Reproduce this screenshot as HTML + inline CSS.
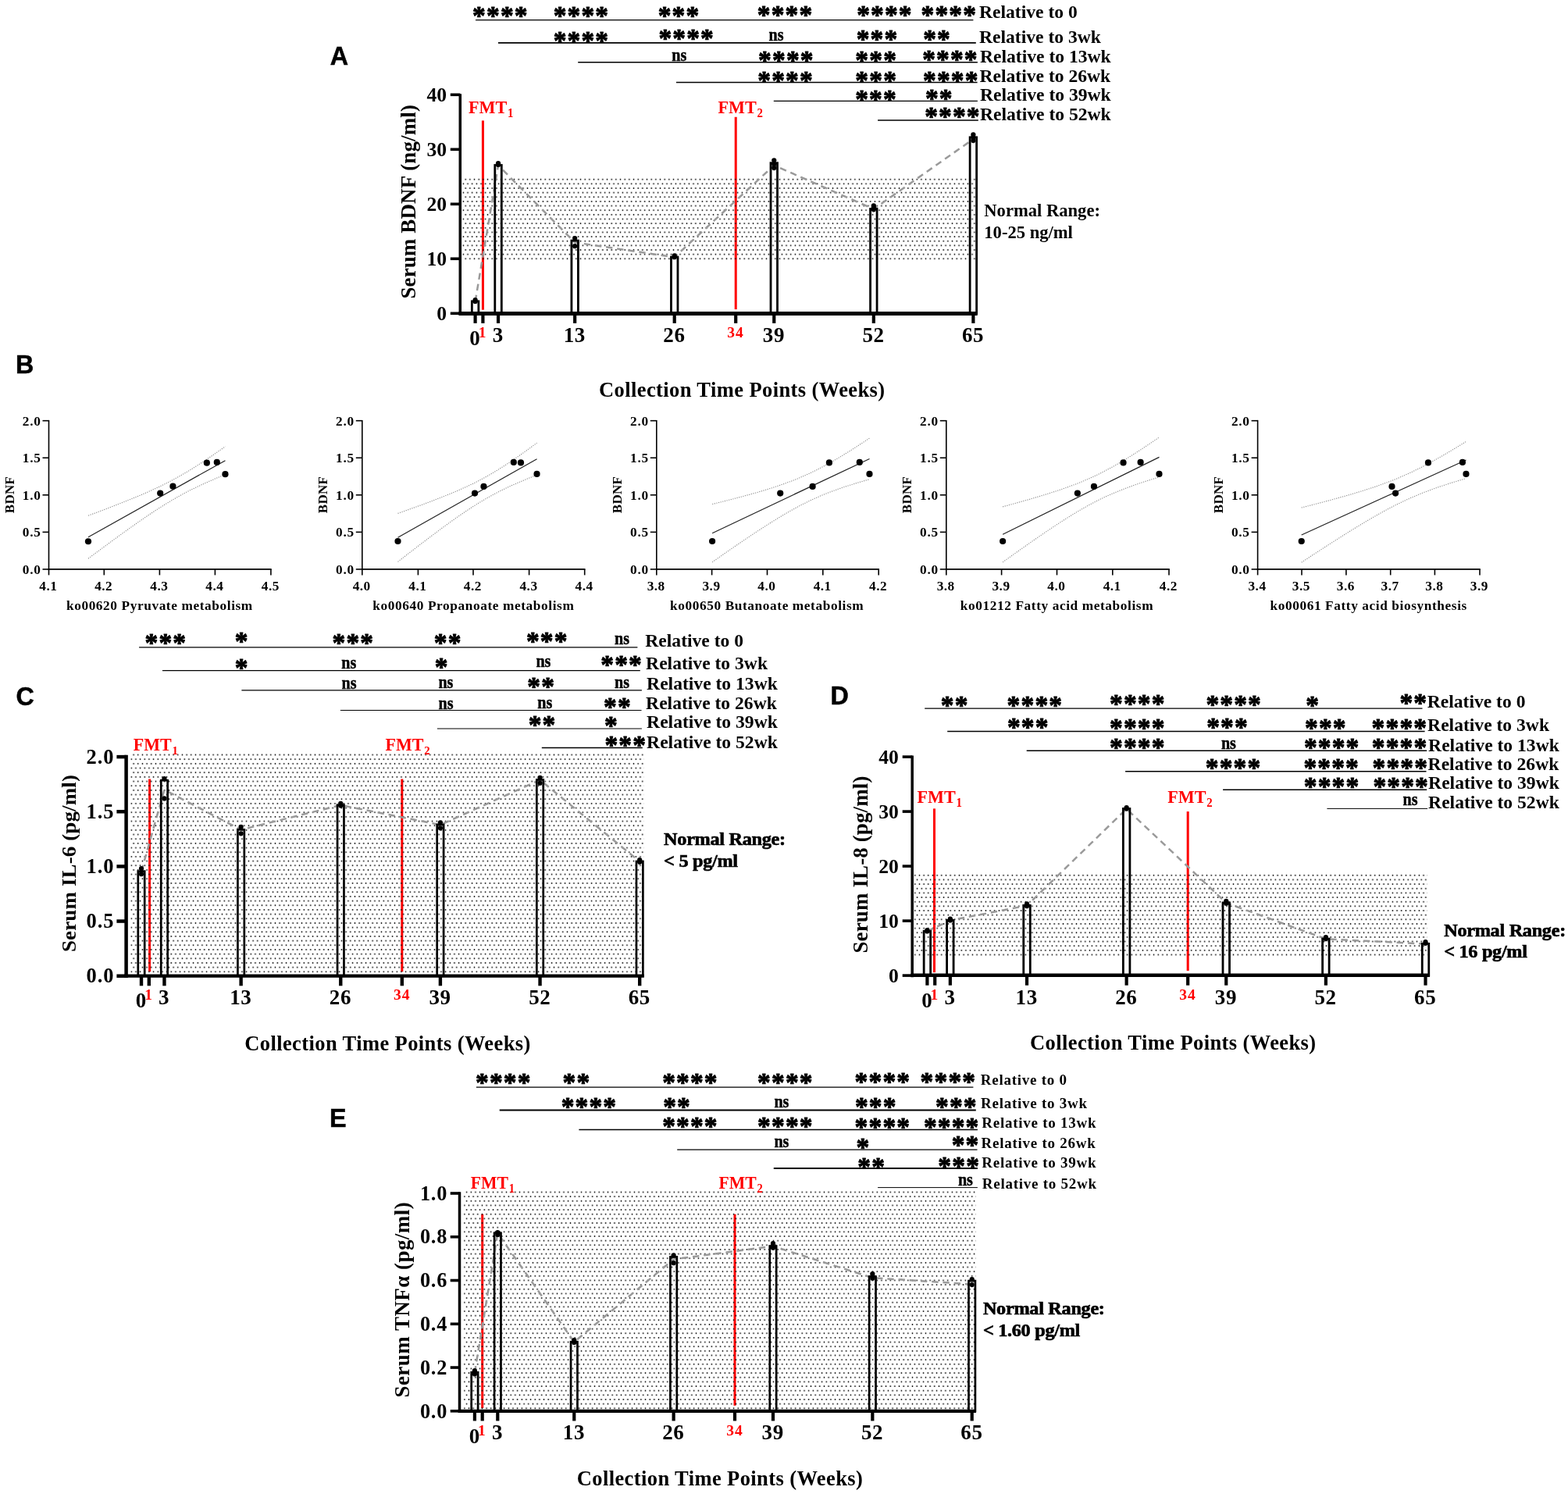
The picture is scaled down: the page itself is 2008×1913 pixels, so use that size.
<!DOCTYPE html>
<html lang="en"><head><meta charset="utf-8"><title>Serum BDNF and cytokine levels across collection time points</title>
<style>html,body{margin:0;padding:0;background:#fff}body{width:2008px;height:1913px;overflow:hidden}svg{display:block}text{font-family:'Liberation Serif', serif;font-weight:bold}line{stroke:#000}.pl{stroke:#000;stroke-width:0.5px}.nr{stroke:#000;stroke-width:0.7px}.nsx{stroke:#000;stroke-width:0.45px}.st{stroke:#000;stroke-width:1px;stroke-linejoin:round}</style>
</head><body>
<svg width="2008" height="1913" viewBox="0 0 2008 1913" role="img" aria-label="Serum BDNF, IL-6, IL-8 and TNF-alpha across collection time points">
<defs>
<pattern id="dotsA" patternUnits="userSpaceOnUse" x="594.78" y="226.88" width="5.667" height="11.288"><circle cx="1.42" cy="2.82" r="0.86" fill="#000"/><circle cx="4.25" cy="8.47" r="0.86" fill="#000"/></pattern>
<pattern id="dotsC" patternUnits="userSpaceOnUse" x="164.03" y="963.67" width="5.667" height="11.338"><circle cx="1.42" cy="2.83" r="0.86" fill="#000"/><circle cx="4.25" cy="8.5" r="0.86" fill="#000"/></pattern>
<pattern id="dotsD" patternUnits="userSpaceOnUse" x="1170.38" y="1117.97" width="5.663" height="11.300"><circle cx="1.42" cy="2.83" r="0.86" fill="#000"/><circle cx="4.25" cy="8.48" r="0.86" fill="#000"/></pattern>
<pattern id="dotsE" patternUnits="userSpaceOnUse" x="590.59" y="1523.68" width="5.652" height="11.296"><circle cx="1.41" cy="2.82" r="0.86" fill="#000"/><circle cx="4.24" cy="8.47" r="0.86" fill="#000"/></pattern>
</defs>
<rect width="2008" height="1913" fill="#fff"/>
<g id="panelA">
<line x1="618.41" y1="154.4" x2="618.41" y2="396.7" stroke-width="3" style="stroke:#f00"/>
<line x1="942.21" y1="149.8" x2="942.21" y2="396.1" stroke-width="3" style="stroke:#f00"/>
<rect x="592" y="227" width="658" height="107" fill="url(#dotsA)"/>
<polyline points="608.6,386 638.04,211.7 736.16,310.4 863.71,329.3 991.27,211.7 1118.82,267.7 1246.38,178.1" fill="none" stroke="#9a9a9a" stroke-width="2.5" stroke-dasharray="8.4 5.85"/>
<rect x="604.35" y="385.8" width="8.5" height="15.5" fill="none" stroke="#000" stroke-width="2.8"/>
<rect x="633.79" y="211.5" width="8.5" height="189.8" fill="none" stroke="#000" stroke-width="2.8"/>
<rect x="731.91" y="308.1" width="8.5" height="93.2" fill="none" stroke="#000" stroke-width="2.8"/>
<rect x="859.46" y="329.1" width="8.5" height="72.2" fill="none" stroke="#000" stroke-width="2.8"/>
<rect x="987.02" y="208.7" width="8.5" height="192.6" fill="none" stroke="#000" stroke-width="2.8"/>
<rect x="1114.57" y="267.5" width="8.5" height="133.8" fill="none" stroke="#000" stroke-width="2.8"/>
<rect x="1242.13" y="175.8" width="8.5" height="225.5" fill="none" stroke="#000" stroke-width="2.8"/>
<circle cx="608.6" cy="385.9" r="3.1" />
<circle cx="608.6" cy="384.15" r="3.1" />
<circle cx="638.04" cy="210.9" r="3.1" />
<circle cx="638.04" cy="209.15" r="3.1" />
<circle cx="736.16" cy="315.2" r="3.1" />
<circle cx="736.16" cy="305.05" r="3.1" />
<circle cx="863.71" cy="329.2" r="3.1" />
<circle cx="863.71" cy="327.45" r="3.1" />
<circle cx="991.27" cy="215.1" r="3.1" />
<circle cx="991.27" cy="210.2" r="3.1" />
<circle cx="991.27" cy="205.3" r="3.1" />
<circle cx="1118.82" cy="268.3" r="3.1" />
<circle cx="1118.82" cy="265.5" r="3.1" />
<circle cx="1118.82" cy="263.4" r="3.1" />
<circle cx="1246.38" cy="180.1" r="3.1" />
<circle cx="1246.38" cy="175.9" r="3.1" />
<circle cx="1246.38" cy="172.4" r="3.1" />
<line x1="589.3" y1="120.2" x2="589.3" y2="403.5" stroke-width="3.5"/>
<line x1="587.55" y1="401.6" x2="1251.7" y2="401.6" stroke-width="5"/>
<line x1="576.8" y1="401.3" x2="589.3" y2="401.3" stroke-width="3.6"/>
<text x="572" y="410" font-size="25.6" text-anchor="end">0</text>
<line x1="576.8" y1="331.3" x2="589.3" y2="331.3" stroke-width="3.6"/>
<text x="572" y="340" font-size="25.6" text-anchor="end">10</text>
<line x1="576.8" y1="261.3" x2="589.3" y2="261.3" stroke-width="3.6"/>
<text x="572" y="270" font-size="25.6" text-anchor="end">20</text>
<line x1="576.8" y1="191.3" x2="589.3" y2="191.3" stroke-width="3.6"/>
<text x="572" y="200" font-size="25.6" text-anchor="end">30</text>
<line x1="576.8" y1="121.3" x2="589.3" y2="121.3" stroke-width="3.6"/>
<text x="572" y="130" font-size="25.6" text-anchor="end">40</text>
<line x1="608.6" y1="401.3" x2="608.6" y2="413.9" stroke-width="4.2"/>
<line x1="618.41" y1="401.3" x2="618.41" y2="413.9" stroke-width="4.2"/>
<line x1="638.04" y1="401.3" x2="638.04" y2="413.9" stroke-width="4.2"/>
<line x1="736.16" y1="401.3" x2="736.16" y2="413.9" stroke-width="4.2"/>
<line x1="863.71" y1="401.3" x2="863.71" y2="413.9" stroke-width="4.2"/>
<line x1="942.21" y1="401.3" x2="942.21" y2="413.9" stroke-width="4.2"/>
<line x1="991.27" y1="401.3" x2="991.27" y2="413.9" stroke-width="4.2"/>
<line x1="1118.82" y1="401.3" x2="1118.82" y2="413.9" stroke-width="4.2"/>
<line x1="1246.38" y1="401.3" x2="1246.38" y2="413.9" stroke-width="4.2"/>
<text x="637.74" y="438.1" font-size="27" text-anchor="middle" letter-spacing="0.6">3</text>
<text x="735.86" y="438.1" font-size="27" text-anchor="middle" letter-spacing="0.6">13</text>
<text x="863.41" y="438.1" font-size="27" text-anchor="middle" letter-spacing="0.6">26</text>
<text x="990.97" y="438.1" font-size="27" text-anchor="middle" letter-spacing="0.6">39</text>
<text x="1118.52" y="438.1" font-size="27" text-anchor="middle" letter-spacing="0.6">52</text>
<text x="1246.08" y="438.1" font-size="27" text-anchor="middle" letter-spacing="0.6">65</text>
<text x="608.1" y="442.3" font-size="27" text-anchor="middle">0</text>
<text x="617.61" y="432.3" font-size="19.5" text-anchor="middle" style="fill:#f00">1</text>
<text x="942.11" y="432.3" font-size="19.5" text-anchor="middle" letter-spacing="1" style="fill:#f00">34</text>
<text x="0" y="0" font-size="23.6" style="fill:#f00" transform="translate(600 145) scale(0.94 1)">FMT<tspan font-size="15.81" dy="4.8" dx="0.8">1</tspan></text>
<text x="0" y="0" font-size="23.6" style="fill:#f00" transform="translate(919.5 145) scale(0.94 1)">FMT<tspan font-size="15.81" dy="4.8" dx="0.8">2</tspan></text>
<text x="0" y="0" font-size="27" text-anchor="middle" letter-spacing="0.12" transform="translate(532.4 258.3) rotate(-90) scale(1 1)">Serum BDNF (ng/ml)</text>
<text x="950.3" y="507.7" font-size="26.5" text-anchor="middle" letter-spacing="0.4">Collection Time Points (Weeks)</text>
<text x="0" y="0" font-size="22.6" transform="translate(1260.3 277.4) scale(1 1.05)">Normal Range:</text>
<text x="0" y="0" font-size="22.6" transform="translate(1260.3 304.6) scale(1 1.05)">10-25 ng/ml</text>
<text x="422.7" y="82.5" font-size="32.3" style="font-family:'Liberation Sans', sans-serif" class="pl">A</text>
<line x1="609" y1="25.6" x2="1246.4" y2="25.6" stroke-width="1.2"/>
<text x="0" y="0" font-size="33.4" letter-spacing="1.2" transform="translate(605.1 30.65) scale(1 1.02)" class="st">****</text>
<text x="0" y="0" font-size="33.4" letter-spacing="1.2" transform="translate(708.7 30.65) scale(1 1.02)" class="st">****</text>
<text x="0" y="0" font-size="33.4" letter-spacing="1.2" transform="translate(842.65 30.65) scale(1 1.02)" class="st">***</text>
<text x="0" y="0" font-size="33.4" letter-spacing="1.2" transform="translate(969.8 29.85) scale(1 1.02)" class="st">****</text>
<text x="0" y="0" font-size="33.4" letter-spacing="1.2" transform="translate(1097.2 29.85) scale(1 1.02)" class="st">****</text>
<text x="0" y="0" font-size="33.4" letter-spacing="1.2" transform="translate(1179.5 29.85) scale(1 1.02)" class="st">****</text>
<text x="0" y="0" font-size="23.6" transform="translate(1254 23) scale(1 0.94)">Relative to 0</text>
<line x1="638" y1="54.9" x2="1249.8" y2="54.9" stroke-width="1.8"/>
<text x="0" y="0" font-size="33.4" letter-spacing="1.2" transform="translate(708.7 63.25) scale(1 1.02)" class="st">****</text>
<text x="0" y="0" font-size="33.4" letter-spacing="1.2" transform="translate(843.4 60.45) scale(1 1.02)" class="st">****</text>
<text x="0" y="0" font-size="24" text-anchor="middle" transform="translate(994 52) scale(0.84 1)" class="nsx">ns</text>
<text x="0" y="0" font-size="33.4" letter-spacing="1.2" transform="translate(1096.65 61.35) scale(1 1.02)" class="st">***</text>
<text x="0" y="0" font-size="33.4" letter-spacing="1.2" transform="translate(1182.2 61.35) scale(1 1.02)" class="st">**</text>
<text x="0" y="0" font-size="23.6" transform="translate(1254 54.8) scale(1 0.94)">Relative to 3wk</text>
<line x1="740.2" y1="79.8" x2="1251.9" y2="79.8" stroke-width="1.6"/>
<text x="0" y="0" font-size="24" text-anchor="middle" transform="translate(869.7 77.5) scale(0.84 1)" class="nsx">ns</text>
<text x="0" y="0" font-size="33.4" letter-spacing="1.2" transform="translate(971.1 88.35) scale(1 1.02)" class="st">****</text>
<text x="0" y="0" font-size="33.4" letter-spacing="1.2" transform="translate(1095.35 88.35) scale(1 1.02)" class="st">***</text>
<text x="0" y="0" font-size="33.4" letter-spacing="1.2" transform="translate(1181.2 86.55) scale(1 1.02)" class="st">****</text>
<text x="0" y="0" font-size="23.6" transform="translate(1255 80.1) scale(1 0.94)">Relative to 13wk</text>
<line x1="866" y1="105.5" x2="1251.6" y2="105.5" stroke-width="1.6"/>
<text x="0" y="0" font-size="33.4" letter-spacing="1.2" transform="translate(970.3 114.45) scale(1 1.02)" class="st">****</text>
<text x="0" y="0" font-size="33.4" letter-spacing="1.2" transform="translate(1095.35 114.45) scale(1 1.02)" class="st">***</text>
<text x="0" y="0" font-size="33.4" letter-spacing="1.2" transform="translate(1182 114.45) scale(1 1.02)" class="st">****</text>
<text x="0" y="0" font-size="23.6" transform="translate(1254.5 105.1) scale(1 0.94)">Relative to 26wk</text>
<line x1="990.8" y1="129.4" x2="1251.9" y2="129.4" stroke-width="1.2"/>
<text x="0" y="0" font-size="33.4" letter-spacing="1.2" transform="translate(1095.15 138.45) scale(1 1.02)" class="st">***</text>
<text x="0" y="0" font-size="33.4" letter-spacing="1.2" transform="translate(1184.9 137.05) scale(1 1.02)" class="st">**</text>
<text x="0" y="0" font-size="23.6" transform="translate(1255 129.1) scale(1 0.94)">Relative to 39wk</text>
<line x1="1124.1" y1="154" x2="1252.8" y2="154" stroke-width="1.6"/>
<text x="0" y="0" font-size="33.4" letter-spacing="1.2" transform="translate(1184.2 159.75) scale(1 1.02)" class="st">****</text>
<text x="0" y="0" font-size="23.6" transform="translate(1255 153.8) scale(1 0.94)">Relative to 52wk</text>
</g>
<g id="panelC">
<line x1="191.6" y1="997.5" x2="191.6" y2="1244.2" stroke-width="3" style="stroke:#f00"/>
<line x1="514.81" y1="997.5" x2="514.81" y2="1244.2" stroke-width="3" style="stroke:#f00"/>
<rect x="167.2" y="964.5" width="657.3" height="284.5" fill="url(#dotsC)"/>
<polyline points="181,1115.81 210.45,1011.29 308.63,1062.5 436.27,1030.93 563.9,1056.18 691.54,998.66 819.17,1103.18" fill="none" stroke="#9a9a9a" stroke-width="2.5" stroke-dasharray="8.4 5.85"/>
<rect x="176.8" y="1115.61" width="8.4" height="134.09" fill="none" stroke="#000" stroke-width="2.7"/>
<rect x="206.25" y="999.16" width="8.4" height="250.54" fill="none" stroke="#000" stroke-width="2.7"/>
<rect x="304.43" y="1062.3" width="8.4" height="187.4" fill="none" stroke="#000" stroke-width="2.7"/>
<rect x="432.07" y="1030.73" width="8.4" height="218.97" fill="none" stroke="#000" stroke-width="2.7"/>
<rect x="559.7" y="1055.98" width="8.4" height="193.72" fill="none" stroke="#000" stroke-width="2.7"/>
<rect x="687.34" y="998.46" width="8.4" height="251.24" fill="none" stroke="#000" stroke-width="2.7"/>
<rect x="814.97" y="1102.98" width="8.4" height="146.72" fill="none" stroke="#000" stroke-width="2.7"/>
<circle cx="181" cy="1119.22" r="3.1" />
<circle cx="181" cy="1112.21" r="3.1" />
<circle cx="210.45" cy="1022.41" r="3.1" />
<circle cx="210.45" cy="997.16" r="3.1" />
<circle cx="308.63" cy="1067.31" r="3.1" />
<circle cx="308.63" cy="1058.89" r="3.1" />
<circle cx="436.27" cy="1031.53" r="3.1" />
<circle cx="436.27" cy="1028.73" r="3.1" />
<circle cx="563.9" cy="1060.3" r="3.1" />
<circle cx="563.9" cy="1053.28" r="3.1" />
<circle cx="691.54" cy="1002.77" r="3.1" />
<circle cx="691.54" cy="995.76" r="3.1" />
<circle cx="819.17" cy="1103.79" r="3.1" />
<circle cx="819.17" cy="1100.98" r="3.1" />
<line x1="161.6" y1="966.85" x2="161.6" y2="1251.9" stroke-width="4.5"/>
<line x1="159.35" y1="1249.6" x2="824.8" y2="1249.6" stroke-width="4.3"/>
<line x1="149.4" y1="1249.7" x2="161.6" y2="1249.7" stroke-width="4.5"/>
<text x="146.6" y="1258.4" font-size="26.5" text-anchor="end" letter-spacing="1">0.0</text>
<line x1="149.4" y1="1179.55" x2="161.6" y2="1179.55" stroke-width="4.5"/>
<text x="146.6" y="1188.25" font-size="26.5" text-anchor="end" letter-spacing="1">0.5</text>
<line x1="149.4" y1="1109.4" x2="161.6" y2="1109.4" stroke-width="4.5"/>
<text x="146.6" y="1118.1" font-size="26.5" text-anchor="end" letter-spacing="1">1.0</text>
<line x1="149.4" y1="1039.25" x2="161.6" y2="1039.25" stroke-width="4.5"/>
<text x="146.6" y="1047.95" font-size="26.5" text-anchor="end" letter-spacing="1">1.5</text>
<line x1="149.4" y1="969.1" x2="161.6" y2="969.1" stroke-width="4.5"/>
<text x="146.6" y="977.8" font-size="26.5" text-anchor="end" letter-spacing="1">2.0</text>
<line x1="181" y1="1249.7" x2="181" y2="1262.3" stroke-width="4.4"/>
<line x1="190.82" y1="1249.7" x2="190.82" y2="1262.3" stroke-width="4.4"/>
<line x1="210.45" y1="1249.7" x2="210.45" y2="1262.3" stroke-width="4.4"/>
<line x1="308.63" y1="1249.7" x2="308.63" y2="1262.3" stroke-width="4.4"/>
<line x1="436.27" y1="1249.7" x2="436.27" y2="1262.3" stroke-width="4.4"/>
<line x1="514.81" y1="1249.7" x2="514.81" y2="1262.3" stroke-width="4.4"/>
<line x1="563.9" y1="1249.7" x2="563.9" y2="1262.3" stroke-width="4.4"/>
<line x1="691.54" y1="1249.7" x2="691.54" y2="1262.3" stroke-width="4.4"/>
<line x1="819.17" y1="1249.7" x2="819.17" y2="1262.3" stroke-width="4.4"/>
<text x="210.15" y="1285.7" font-size="27" text-anchor="middle" letter-spacing="0.6">3</text>
<text x="308.33" y="1285.7" font-size="27" text-anchor="middle" letter-spacing="0.6">13</text>
<text x="435.97" y="1285.7" font-size="27" text-anchor="middle" letter-spacing="0.6">26</text>
<text x="563.6" y="1285.7" font-size="27" text-anchor="middle" letter-spacing="0.6">39</text>
<text x="691.24" y="1285.7" font-size="27" text-anchor="middle" letter-spacing="0.6">52</text>
<text x="818.87" y="1285.7" font-size="27" text-anchor="middle" letter-spacing="0.6">65</text>
<text x="180.5" y="1289.9" font-size="27" text-anchor="middle">0</text>
<text x="190.02" y="1280" font-size="19.5" text-anchor="middle" style="fill:#f00">1</text>
<text x="514.71" y="1280" font-size="19.5" text-anchor="middle" letter-spacing="1" style="fill:#f00">34</text>
<text x="0" y="0" font-size="23.2" style="fill:#f00" transform="translate(170.7 961) scale(0.95 1)">FMT<tspan font-size="15.54" dy="4.8" dx="0.8">1</tspan></text>
<text x="0" y="0" font-size="23.2" style="fill:#f00" transform="translate(493.5 961) scale(0.95 1)">FMT<tspan font-size="15.54" dy="4.8" dx="0.8">2</tspan></text>
<text x="0" y="0" font-size="27" text-anchor="middle" letter-spacing="0.12" transform="translate(97 1105.5) rotate(-90) scale(1 0.91)">Serum IL-6 (pg/ml)</text>
<text x="496.5" y="1344.6" font-size="26.5" text-anchor="middle" letter-spacing="0.4">Collection Time Points (Weeks)</text>
<text x="0" y="0" font-size="24.5" letter-spacing="-0.3" transform="translate(850.1 1082.4) scale(0.99 0.92)" class="nr">Normal Range:</text>
<text x="0" y="0" font-size="24.5" letter-spacing="-0.3" transform="translate(850.1 1110) scale(0.99 0.92)" class="nr">&lt; 5 pg/ml</text>
<text x="20.4" y="903.3" font-size="32.3" style="font-family:'Liberation Sans', sans-serif" class="pl">C</text>
<line x1="178.1" y1="828.9" x2="816.4" y2="828.9" stroke-width="1.2"/>
<text x="0" y="0" font-size="33.4" letter-spacing="1.2" transform="translate(185.55 834.05) scale(1 1.02)" class="st">***</text>
<text x="0" y="0" font-size="33.4" letter-spacing="1.2" transform="translate(300.85 831.95) scale(1 1.02)" class="st">*</text>
<text x="0" y="0" font-size="33.4" letter-spacing="1.2" transform="translate(425.55 834.05) scale(1 1.02)" class="st">***</text>
<text x="0" y="0" font-size="33.4" letter-spacing="1.2" transform="translate(555.8 834.05) scale(1 1.02)" class="st">**</text>
<text x="0" y="0" font-size="33.4" letter-spacing="1.2" transform="translate(673.95 832.05) scale(1 1.02)" class="st">***</text>
<text x="0" y="0" font-size="24" text-anchor="middle" transform="translate(796.5 824.9) scale(0.84 1)" class="nsx">ns</text>
<text x="0" y="0" font-size="23.6" transform="translate(826.3 827.5) scale(1 0.94)">Relative to 0</text>
<line x1="208" y1="858.7" x2="819.8" y2="858.7" stroke-width="1.2"/>
<text x="0" y="0" font-size="33.4" letter-spacing="1.2" transform="translate(300.85 866.35) scale(1 1.02)" class="st">*</text>
<text x="0" y="0" font-size="24" text-anchor="middle" transform="translate(446.7 856) scale(0.84 1)" class="nsx">ns</text>
<text x="0" y="0" font-size="33.4" letter-spacing="1.2" transform="translate(556.75 864.55) scale(1 1.02)" class="st">*</text>
<text x="0" y="0" font-size="24" text-anchor="middle" transform="translate(695.9 854.2) scale(0.84 1)" class="nsx">ns</text>
<text x="0" y="0" font-size="33.4" letter-spacing="1.2" transform="translate(769.25 862.05) scale(1 1.02)" class="st">***</text>
<text x="0" y="0" font-size="23.6" transform="translate(827.1 857.4) scale(1 0.94)">Relative to 3wk</text>
<line x1="309.4" y1="883.8" x2="821.9" y2="883.8" stroke-width="1.2"/>
<text x="0" y="0" font-size="24" text-anchor="middle" transform="translate(447.1 881.7) scale(0.84 1)" class="nsx">ns</text>
<text x="0" y="0" font-size="24" text-anchor="middle" transform="translate(570.9 881) scale(0.84 1)" class="nsx">ns</text>
<text x="0" y="0" font-size="33.4" letter-spacing="1.2" transform="translate(675.3 889.85) scale(1 1.02)" class="st">**</text>
<text x="0" y="0" font-size="24" text-anchor="middle" transform="translate(796.5 881) scale(0.84 1)" class="nsx">ns</text>
<text x="0" y="0" font-size="23.6" transform="translate(828.1 883.1) scale(1 0.94)">Relative to 13wk</text>
<line x1="435.9" y1="909.5" x2="821.5" y2="909.5" stroke-width="1.2"/>
<text x="0" y="0" font-size="24" text-anchor="middle" transform="translate(571.1 908.1) scale(0.84 1)" class="nsx">ns</text>
<text x="0" y="0" font-size="24" text-anchor="middle" transform="translate(697.7 906.7) scale(0.84 1)" class="nsx">ns</text>
<text x="0" y="0" font-size="33.4" letter-spacing="1.2" transform="translate(773 915.85) scale(1 1.02)" class="st">**</text>
<text x="0" y="0" font-size="23.6" transform="translate(827.1 908.1) scale(1 0.94)">Relative to 26wk</text>
<line x1="559.9" y1="933" x2="821.9" y2="933" stroke-width="1.2"/>
<text x="0" y="0" font-size="33.4" letter-spacing="1.2" transform="translate(676.7 939.05) scale(1 1.02)" class="st">**</text>
<text x="0" y="0" font-size="33.4" letter-spacing="1.2" transform="translate(773.95 940.35) scale(1 1.02)" class="st">*</text>
<text x="0" y="0" font-size="23.6" transform="translate(828.1 932.1) scale(1 0.94)">Relative to 39wk</text>
<line x1="693.8" y1="957.5" x2="822.8" y2="957.5" stroke-width="1.6"/>
<text x="0" y="0" font-size="33.4" letter-spacing="1.2" transform="translate(774.45 965.05) scale(1 1.02)" class="st">***</text>
<text x="0" y="0" font-size="23.6" transform="translate(828.1 957.7) scale(1 0.94)">Relative to 52wk</text>
</g>
<g id="panelD">
<line x1="1196.5" y1="1035.4" x2="1196.5" y2="1245.1" stroke-width="3" style="stroke:#f00"/>
<line x1="1521.18" y1="1039.1" x2="1521.18" y2="1243" stroke-width="3" style="stroke:#f00"/>
<rect x="1170.5" y="1117.5" width="657.5" height="108.5" fill="url(#dotsD)"/>
<polyline points="1187.4,1192.5 1216.85,1178.5 1315.02,1159.6 1442.64,1035.7 1570.26,1156.1 1697.88,1202.3 1825.51,1208.6" fill="none" stroke="#9a9a9a" stroke-width="2.5" stroke-dasharray="8.4 5.85"/>
<rect x="1183.15" y="1192.3" width="8.5" height="56.8" fill="none" stroke="#000" stroke-width="2.8"/>
<rect x="1212.6" y="1178.3" width="8.5" height="70.8" fill="none" stroke="#000" stroke-width="2.8"/>
<rect x="1310.77" y="1159.4" width="8.5" height="89.7" fill="none" stroke="#000" stroke-width="2.8"/>
<rect x="1438.39" y="1035.5" width="8.5" height="213.6" fill="none" stroke="#000" stroke-width="2.8"/>
<rect x="1566.01" y="1155.9" width="8.5" height="93.2" fill="none" stroke="#000" stroke-width="2.8"/>
<rect x="1693.63" y="1202.1" width="8.5" height="47" fill="none" stroke="#000" stroke-width="2.8"/>
<rect x="1821.26" y="1208.4" width="8.5" height="40.7" fill="none" stroke="#000" stroke-width="2.8"/>
<circle cx="1187.4" cy="1192.4" r="3.1" />
<circle cx="1187.4" cy="1191" r="3.1" />
<circle cx="1216.85" cy="1178.4" r="3.1" />
<circle cx="1216.85" cy="1176.65" r="3.1" />
<circle cx="1315.02" cy="1160.2" r="3.1" />
<circle cx="1315.02" cy="1157.4" r="3.1" />
<circle cx="1442.64" cy="1035.6" r="3.1" />
<circle cx="1442.64" cy="1034.2" r="3.1" />
<circle cx="1570.26" cy="1156.7" r="3.1" />
<circle cx="1570.26" cy="1153.9" r="3.1" />
<circle cx="1697.88" cy="1202.2" r="3.1" />
<circle cx="1697.88" cy="1200.1" r="3.1" />
<circle cx="1825.51" cy="1207.8" r="3.1" />
<circle cx="1825.51" cy="1206.05" r="3.1" />
<line x1="1168.2" y1="967.5" x2="1168.2" y2="1251.3" stroke-width="3.5"/>
<line x1="1166.45" y1="1248.7" x2="1831" y2="1248.7" stroke-width="4.5"/>
<line x1="1155.7" y1="1249.1" x2="1168.2" y2="1249.1" stroke-width="3.6"/>
<text x="1150.9" y="1257.8" font-size="25.6" text-anchor="end">0</text>
<line x1="1155.7" y1="1179.1" x2="1168.2" y2="1179.1" stroke-width="3.6"/>
<text x="1150.9" y="1187.8" font-size="25.6" text-anchor="end">10</text>
<line x1="1155.7" y1="1109.1" x2="1168.2" y2="1109.1" stroke-width="3.6"/>
<text x="1150.9" y="1117.8" font-size="25.6" text-anchor="end">20</text>
<line x1="1155.7" y1="1039.1" x2="1168.2" y2="1039.1" stroke-width="3.6"/>
<text x="1150.9" y="1047.8" font-size="25.6" text-anchor="end">30</text>
<line x1="1155.7" y1="969.1" x2="1168.2" y2="969.1" stroke-width="3.6"/>
<text x="1150.9" y="977.8" font-size="25.6" text-anchor="end">40</text>
<line x1="1187.4" y1="1249.1" x2="1187.4" y2="1261.7" stroke-width="4.2"/>
<line x1="1197.22" y1="1249.1" x2="1197.22" y2="1261.7" stroke-width="4.2"/>
<line x1="1216.85" y1="1249.1" x2="1216.85" y2="1261.7" stroke-width="4.2"/>
<line x1="1315.02" y1="1249.1" x2="1315.02" y2="1261.7" stroke-width="4.2"/>
<line x1="1442.64" y1="1249.1" x2="1442.64" y2="1261.7" stroke-width="4.2"/>
<line x1="1521.18" y1="1249.1" x2="1521.18" y2="1261.7" stroke-width="4.2"/>
<line x1="1570.26" y1="1249.1" x2="1570.26" y2="1261.7" stroke-width="4.2"/>
<line x1="1697.88" y1="1249.1" x2="1697.88" y2="1261.7" stroke-width="4.2"/>
<line x1="1825.51" y1="1249.1" x2="1825.51" y2="1261.7" stroke-width="4.2"/>
<text x="1216.55" y="1285.9" font-size="27" text-anchor="middle" letter-spacing="0.6">3</text>
<text x="1314.72" y="1285.9" font-size="27" text-anchor="middle" letter-spacing="0.6">13</text>
<text x="1442.34" y="1285.9" font-size="27" text-anchor="middle" letter-spacing="0.6">26</text>
<text x="1569.96" y="1285.9" font-size="27" text-anchor="middle" letter-spacing="0.6">39</text>
<text x="1697.58" y="1285.9" font-size="27" text-anchor="middle" letter-spacing="0.6">52</text>
<text x="1825.21" y="1285.9" font-size="27" text-anchor="middle" letter-spacing="0.6">65</text>
<text x="1186.9" y="1290.1" font-size="27" text-anchor="middle">0</text>
<text x="1196.42" y="1280.1" font-size="19.5" text-anchor="middle" style="fill:#f00">1</text>
<text x="1521.08" y="1280.1" font-size="19.5" text-anchor="middle" letter-spacing="1" style="fill:#f00">34</text>
<text x="0" y="0" font-size="23.6" style="fill:#f00" transform="translate(1174.5 1028.2) scale(0.94 1)">FMT<tspan font-size="15.81" dy="4.8" dx="0.8">1</tspan></text>
<text x="0" y="0" font-size="23.6" style="fill:#f00" transform="translate(1495.2 1028.2) scale(0.94 1)">FMT<tspan font-size="15.81" dy="4.8" dx="0.8">2</tspan></text>
<text x="0" y="0" font-size="27" text-anchor="middle" letter-spacing="0.12" transform="translate(1110.5 1107) rotate(-90) scale(1 1)">Serum IL-8 (pg/ml)</text>
<text x="1502.3" y="1344.3" font-size="26.5" text-anchor="middle" letter-spacing="0.4">Collection Time Points (Weeks)</text>
<text x="0" y="0" font-size="24.5" letter-spacing="-0.3" transform="translate(1849.2 1199) scale(0.99 0.92)" class="nr">Normal Range:</text>
<text x="0" y="0" font-size="24.5" letter-spacing="-0.3" transform="translate(1849.2 1225.8) scale(0.99 0.92)" class="nr">&lt; 16 pg/ml</text>
<text x="1063.5" y="902" font-size="32.3" style="font-family:'Liberation Sans', sans-serif" class="pl">D</text>
<line x1="1184.2" y1="907.1" x2="1821.5" y2="907.1" stroke-width="1.2"/>
<text x="0" y="0" font-size="33.4" letter-spacing="1.2" transform="translate(1204.8 914.05) scale(1 1.02)" class="st">**</text>
<text x="0" y="0" font-size="33.4" letter-spacing="1.2" transform="translate(1289.6 914.05) scale(1 1.02)" class="st">****</text>
<text x="0" y="0" font-size="33.4" letter-spacing="1.2" transform="translate(1421 912.15) scale(1 1.02)" class="st">****</text>
<text x="0" y="0" font-size="33.4" letter-spacing="1.2" transform="translate(1544.4 912.65) scale(1 1.02)" class="st">****</text>
<text x="0" y="0" font-size="33.4" letter-spacing="1.2" transform="translate(1672.15 914.25) scale(1 1.02)" class="st">*</text>
<text x="0" y="0" font-size="33.4" letter-spacing="1.2" transform="translate(1792.4 911.15) scale(1 1.02)" class="st">**</text>
<text x="0" y="0" font-size="23.6" transform="translate(1827.7 905.9) scale(1 0.94)">Relative to 0</text>
<line x1="1213.2" y1="936.5" x2="1824.6" y2="936.5" stroke-width="1.6"/>
<text x="0" y="0" font-size="33.4" letter-spacing="1.2" transform="translate(1289.95 942.05) scale(1 1.02)" class="st">***</text>
<text x="0" y="0" font-size="33.4" letter-spacing="1.2" transform="translate(1421 943.25) scale(1 1.02)" class="st">****</text>
<text x="0" y="0" font-size="33.4" letter-spacing="1.2" transform="translate(1545.15 942.05) scale(1 1.02)" class="st">***</text>
<text x="0" y="0" font-size="33.4" letter-spacing="1.2" transform="translate(1671.05 943.25) scale(1 1.02)" class="st">***</text>
<text x="0" y="0" font-size="33.4" letter-spacing="1.2" transform="translate(1756.6 943.25) scale(1 1.02)" class="st">****</text>
<text x="0" y="0" font-size="23.6" transform="translate(1828.1 935.6) scale(1 0.94)">Relative to 3wk</text>
<line x1="1314.7" y1="961.2" x2="1827.2" y2="961.2" stroke-width="1.6"/>
<text x="0" y="0" font-size="33.4" letter-spacing="1.2" transform="translate(1421 967.75) scale(1 1.02)" class="st">****</text>
<text x="0" y="0" font-size="24" text-anchor="middle" transform="translate(1573.4 958.8) scale(0.84 1)" class="nsx">ns</text>
<text x="0" y="0" font-size="33.4" letter-spacing="1.2" transform="translate(1669.9 967.75) scale(1 1.02)" class="st">****</text>
<text x="0" y="0" font-size="33.4" letter-spacing="1.2" transform="translate(1756.8 967.75) scale(1 1.02)" class="st">****</text>
<text x="0" y="0" font-size="23.6" transform="translate(1829.1 961.6) scale(1 0.94)">Relative to 13wk</text>
<line x1="1441.1" y1="987.8" x2="1826.5" y2="987.8" stroke-width="1.6"/>
<text x="0" y="0" font-size="33.4" letter-spacing="1.2" transform="translate(1543.8 994.25) scale(1 1.02)" class="st">****</text>
<text x="0" y="0" font-size="33.4" letter-spacing="1.2" transform="translate(1669.4 994.25) scale(1 1.02)" class="st">****</text>
<text x="0" y="0" font-size="33.4" letter-spacing="1.2" transform="translate(1757.5 994.25) scale(1 1.02)" class="st">****</text>
<text x="0" y="0" font-size="23.6" transform="translate(1828.6 985.8) scale(1 0.94)">Relative to 26wk</text>
<line x1="1566.1" y1="1011.3" x2="1827.2" y2="1011.3" stroke-width="1.6"/>
<text x="0" y="0" font-size="33.4" letter-spacing="1.2" transform="translate(1669.8 1017.55) scale(1 1.02)" class="st">****</text>
<text x="0" y="0" font-size="33.4" letter-spacing="1.2" transform="translate(1758.4 1017.55) scale(1 1.02)" class="st">****</text>
<text x="0" y="0" font-size="23.6" transform="translate(1829.1 1009.8) scale(1 0.94)">Relative to 39wk</text>
<line x1="1699.4" y1="1035.4" x2="1828.1" y2="1035.4" stroke-width="1"/>
<text x="0" y="0" font-size="24" text-anchor="middle" transform="translate(1806.1 1031.3) scale(0.84 1)" class="nsx">ns</text>
<text x="0" y="0" font-size="23.6" transform="translate(1829.1 1034.8) scale(1 0.94)">Relative to 52wk</text>
</g>
<g id="panelE">
<line x1="617.7" y1="1554.7" x2="617.7" y2="1803.1" stroke-width="3" style="stroke:#f00"/>
<line x1="941" y1="1554.7" x2="941" y2="1799.8" stroke-width="3" style="stroke:#f00"/>
<rect x="594" y="1524" width="656" height="282" fill="url(#dotsE)"/>
<polyline points="607.9,1757.42 637.29,1578.98 735.26,1718.38 862.62,1612.44 989.98,1595.71 1117.34,1636.14 1244.7,1644.5" fill="none" stroke="#9a9a9a" stroke-width="2.5" stroke-dasharray="8.4 5.85"/>
<rect x="603.7" y="1757.22" width="8.4" height="49.58" fill="none" stroke="#000" stroke-width="2.7"/>
<rect x="633.09" y="1578.78" width="8.4" height="228.02" fill="none" stroke="#000" stroke-width="2.7"/>
<rect x="731.06" y="1718.18" width="8.4" height="88.62" fill="none" stroke="#000" stroke-width="2.7"/>
<rect x="858.42" y="1609.45" width="8.4" height="197.35" fill="none" stroke="#000" stroke-width="2.7"/>
<rect x="985.78" y="1595.51" width="8.4" height="211.29" fill="none" stroke="#000" stroke-width="2.7"/>
<rect x="1113.14" y="1634.54" width="8.4" height="172.26" fill="none" stroke="#000" stroke-width="2.7"/>
<rect x="1240.5" y="1640.12" width="8.4" height="166.68" fill="none" stroke="#000" stroke-width="2.7"/>
<circle cx="607.9" cy="1759.4" r="3.1" />
<circle cx="607.9" cy="1755.22" r="3.1" />
<circle cx="637.29" cy="1580.97" r="3.1" />
<circle cx="637.29" cy="1578.18" r="3.1" />
<circle cx="735.26" cy="1718.98" r="3.1" />
<circle cx="735.26" cy="1716.19" r="3.1" />
<circle cx="862.62" cy="1617.22" r="3.1" />
<circle cx="862.62" cy="1607.46" r="3.1" />
<circle cx="989.98" cy="1597.7" r="3.1" />
<circle cx="989.98" cy="1592.12" r="3.1" />
<circle cx="1117.34" cy="1636.73" r="3.1" />
<circle cx="1117.34" cy="1631.16" r="3.1" />
<circle cx="1244.7" cy="1645.1" r="3.1" />
<circle cx="1244.7" cy="1638.13" r="3.1" />
<line x1="588.5" y1="1526.2" x2="588.5" y2="1809" stroke-width="3.5"/>
<line x1="586.75" y1="1806.8" x2="1250" y2="1806.8" stroke-width="4.2"/>
<line x1="576.7" y1="1806.8" x2="588.5" y2="1806.8" stroke-width="3.6"/>
<text x="573.2" y="1815.5" font-size="26.3" text-anchor="end" letter-spacing="0.8">0.0</text>
<line x1="576.7" y1="1751.04" x2="588.5" y2="1751.04" stroke-width="3.6"/>
<text x="573.2" y="1759.74" font-size="26.3" text-anchor="end" letter-spacing="0.8">0.2</text>
<line x1="576.7" y1="1695.28" x2="588.5" y2="1695.28" stroke-width="3.6"/>
<text x="573.2" y="1703.98" font-size="26.3" text-anchor="end" letter-spacing="0.8">0.4</text>
<line x1="576.7" y1="1639.52" x2="588.5" y2="1639.52" stroke-width="3.6"/>
<text x="573.2" y="1648.22" font-size="26.3" text-anchor="end" letter-spacing="0.8">0.6</text>
<line x1="576.7" y1="1583.76" x2="588.5" y2="1583.76" stroke-width="3.6"/>
<text x="573.2" y="1592.46" font-size="26.3" text-anchor="end" letter-spacing="0.8">0.8</text>
<line x1="576.7" y1="1528" x2="588.5" y2="1528" stroke-width="3.6"/>
<text x="573.2" y="1536.7" font-size="26.3" text-anchor="end" letter-spacing="0.8">1.0</text>
<line x1="607.9" y1="1806.8" x2="607.9" y2="1819.4" stroke-width="4.2"/>
<line x1="617.7" y1="1806.8" x2="617.7" y2="1819.4" stroke-width="4.2"/>
<line x1="637.29" y1="1806.8" x2="637.29" y2="1819.4" stroke-width="4.2"/>
<line x1="735.26" y1="1806.8" x2="735.26" y2="1819.4" stroke-width="4.2"/>
<line x1="862.62" y1="1806.8" x2="862.62" y2="1819.4" stroke-width="4.2"/>
<line x1="941" y1="1806.8" x2="941" y2="1819.4" stroke-width="4.2"/>
<line x1="989.98" y1="1806.8" x2="989.98" y2="1819.4" stroke-width="4.2"/>
<line x1="1117.34" y1="1806.8" x2="1117.34" y2="1819.4" stroke-width="4.2"/>
<line x1="1244.7" y1="1806.8" x2="1244.7" y2="1819.4" stroke-width="4.2"/>
<text x="636.99" y="1843" font-size="27" text-anchor="middle" letter-spacing="0.6">3</text>
<text x="734.96" y="1843" font-size="27" text-anchor="middle" letter-spacing="0.6">13</text>
<text x="862.32" y="1843" font-size="27" text-anchor="middle" letter-spacing="0.6">26</text>
<text x="989.68" y="1843" font-size="27" text-anchor="middle" letter-spacing="0.6">39</text>
<text x="1117.04" y="1843" font-size="27" text-anchor="middle" letter-spacing="0.6">52</text>
<text x="1244.4" y="1843" font-size="27" text-anchor="middle" letter-spacing="0.6">65</text>
<text x="607.4" y="1847.8" font-size="27" text-anchor="middle">0</text>
<text x="616.9" y="1837.8" font-size="19.5" text-anchor="middle" style="fill:#f00">1</text>
<text x="940.9" y="1837.8" font-size="19.5" text-anchor="middle" letter-spacing="1" style="fill:#f00">34</text>
<text x="0" y="0" font-size="23.6" style="fill:#f00" transform="translate(602.7 1522.3) scale(0.92 1)">FMT<tspan font-size="15.81" dy="4.8" dx="0.8">1</tspan></text>
<text x="0" y="0" font-size="23.6" style="fill:#f00" transform="translate(920.5 1522.3) scale(0.92 1)">FMT<tspan font-size="15.81" dy="4.8" dx="0.8">2</tspan></text>
<text x="0" y="0" font-size="27" text-anchor="middle" letter-spacing="0.45" transform="translate(524 1664.2) rotate(-90) scale(1 1)">Serum TNFα (pg/ml)</text>
<text x="922" y="1901.8" font-size="26.5" text-anchor="middle" letter-spacing="0.4">Collection Time Points (Weeks)</text>
<text x="0" y="0" font-size="24.5" letter-spacing="-0.3" transform="translate(1258.9 1683.3) scale(0.99 0.92)" class="nr">Normal Range:</text>
<text x="0" y="0" font-size="24.5" letter-spacing="-0.3" transform="translate(1258.9 1710.9) scale(0.99 0.92)" class="nr">&lt; 1.60 pg/ml</text>
<text x="422" y="1442.7" font-size="32.3" style="font-family:'Liberation Sans', sans-serif" class="pl">E</text>
<line x1="609.9" y1="1392.2" x2="1246.4" y2="1392.2" stroke-width="1.2"/>
<text x="0" y="0" font-size="33.4" letter-spacing="1.2" transform="translate(609 1397.35) scale(1 1.02)" class="st">****</text>
<text x="0" y="0" font-size="33.4" letter-spacing="1.2" transform="translate(720.5 1397.35) scale(1 1.02)" class="st">**</text>
<text x="0" y="0" font-size="33.4" letter-spacing="1.2" transform="translate(848.2 1397.35) scale(1 1.02)" class="st">****</text>
<text x="0" y="0" font-size="33.4" letter-spacing="1.2" transform="translate(970.1 1397.25) scale(1 1.02)" class="st">****</text>
<text x="0" y="0" font-size="33.4" letter-spacing="1.2" transform="translate(1094.6 1395.65) scale(1 1.02)" class="st">****</text>
<text x="0" y="0" font-size="33.4" letter-spacing="1.2" transform="translate(1178.6 1395.65) scale(1 1.02)" class="st">****</text>
<text x="0" y="0" font-size="19" letter-spacing="0.75" transform="translate(1255.8 1388.6) scale(1 1)">Relative to 0</text>
<line x1="639.7" y1="1421.5" x2="1249.8" y2="1421.5" stroke-width="1.8"/>
<text x="0" y="0" font-size="33.4" letter-spacing="1.2" transform="translate(718.7 1428.05) scale(1 1.02)" class="st">****</text>
<text x="0" y="0" font-size="33.4" letter-spacing="1.2" transform="translate(849.2 1428.05) scale(1 1.02)" class="st">**</text>
<text x="0" y="0" font-size="24" text-anchor="middle" transform="translate(1000.9 1418.2) scale(0.84 1)" class="nsx">ns</text>
<text x="0" y="0" font-size="33.4" letter-spacing="1.2" transform="translate(1094.95 1428.05) scale(1 1.02)" class="st">***</text>
<text x="0" y="0" font-size="33.4" letter-spacing="1.2" transform="translate(1198.05 1428.05) scale(1 1.02)" class="st">***</text>
<text x="0" y="0" font-size="19" letter-spacing="0.75" transform="translate(1256 1418.8) scale(1 1)">Relative to 3wk</text>
<line x1="741.4" y1="1446.5" x2="1251.9" y2="1446.5" stroke-width="1.6"/>
<text x="0" y="0" font-size="33.4" letter-spacing="1.2" transform="translate(848.2 1453.05) scale(1 1.02)" class="st">****</text>
<text x="0" y="0" font-size="33.4" letter-spacing="1.2" transform="translate(970.1 1453.05) scale(1 1.02)" class="st">****</text>
<text x="0" y="0" font-size="33.4" letter-spacing="1.2" transform="translate(1094.6 1454.35) scale(1 1.02)" class="st">****</text>
<text x="0" y="0" font-size="33.4" letter-spacing="1.2" transform="translate(1182.9 1454.35) scale(1 1.02)" class="st">****</text>
<text x="0" y="0" font-size="19" letter-spacing="0.75" transform="translate(1257.3 1444.1) scale(1 1)">Relative to 13wk</text>
<line x1="867.2" y1="1472.2" x2="1251.5" y2="1472.2" stroke-width="1.2"/>
<text x="0" y="0" font-size="24" text-anchor="middle" transform="translate(1000.9 1469.3) scale(0.84 1)" class="nsx">ns</text>
<text x="0" y="0" font-size="33.4" letter-spacing="1.2" transform="translate(1096.55 1480.05) scale(1 1.02)" class="st">*</text>
<text x="0" y="0" font-size="33.4" letter-spacing="1.2" transform="translate(1218.7 1477.05) scale(1 1.02)" class="st">**</text>
<text x="0" y="0" font-size="19" letter-spacing="0.75" transform="translate(1256.5 1470.3) scale(1 1)">Relative to 26wk</text>
<line x1="990.8" y1="1496" x2="1251.9" y2="1496" stroke-width="1.9"/>
<text x="0" y="0" font-size="33.4" letter-spacing="1.2" transform="translate(1098.3 1505.15) scale(1 1.02)" class="st">**</text>
<text x="0" y="0" font-size="33.4" letter-spacing="1.2" transform="translate(1201.35 1504.45) scale(1 1.02)" class="st">***</text>
<text x="0" y="0" font-size="19" letter-spacing="0.75" transform="translate(1257.3 1495.3) scale(1 1)">Relative to 39wk</text>
<line x1="1124.1" y1="1520.6" x2="1251.9" y2="1520.6" stroke-width="1"/>
<text x="0" y="0" font-size="24" text-anchor="middle" transform="translate(1236.4 1518) scale(0.84 1)" class="nsx">ns</text>
<text x="0" y="0" font-size="19" letter-spacing="0.75" transform="translate(1257.8 1521.5) scale(1 1)">Relative to 52wk</text>
</g>
<g id="panelB">
<text x="20" y="477.8" font-size="32.3" style="font-family:'Liberation Sans', sans-serif" class="pl">B</text>
<line x1="62.5" y1="537.9" x2="62.5" y2="729.7" stroke-width="1.6"/>
<line x1="61.7" y1="728.9" x2="347.7" y2="728.9" stroke-width="1.6"/>
<line x1="54.5" y1="728.9" x2="62.5" y2="728.9" stroke-width="1.6"/>
<text x="52.5" y="734.7" font-size="17.3" text-anchor="end" letter-spacing="0.7">0.0</text>
<line x1="54.5" y1="681.35" x2="62.5" y2="681.35" stroke-width="1.6"/>
<text x="52.5" y="687.15" font-size="17.3" text-anchor="end" letter-spacing="0.7">0.5</text>
<line x1="54.5" y1="633.8" x2="62.5" y2="633.8" stroke-width="1.6"/>
<text x="52.5" y="639.6" font-size="17.3" text-anchor="end" letter-spacing="0.7">1.0</text>
<line x1="54.5" y1="586.25" x2="62.5" y2="586.25" stroke-width="1.6"/>
<text x="52.5" y="592.05" font-size="17.3" text-anchor="end" letter-spacing="0.7">1.5</text>
<line x1="54.5" y1="538.7" x2="62.5" y2="538.7" stroke-width="1.6"/>
<text x="52.5" y="544.5" font-size="17.3" text-anchor="end" letter-spacing="0.7">2.0</text>
<line x1="62.5" y1="728.9" x2="62.5" y2="736.4" stroke-width="1.6"/>
<text x="61.9" y="756.4" font-size="17.3" text-anchor="middle" letter-spacing="0.5">4.1</text>
<line x1="133.3" y1="728.9" x2="133.3" y2="736.4" stroke-width="1.6"/>
<text x="132.7" y="756.4" font-size="17.3" text-anchor="middle" letter-spacing="0.5">4.2</text>
<line x1="204.4" y1="728.9" x2="204.4" y2="736.4" stroke-width="1.6"/>
<text x="203.8" y="756.4" font-size="17.3" text-anchor="middle" letter-spacing="0.5">4.3</text>
<line x1="275.4" y1="728.9" x2="275.4" y2="736.4" stroke-width="1.6"/>
<text x="274.8" y="756.4" font-size="17.3" text-anchor="middle" letter-spacing="0.5">4.4</text>
<line x1="346.9" y1="728.9" x2="346.9" y2="736.4" stroke-width="1.6"/>
<text x="346.3" y="756.4" font-size="17.3" text-anchor="middle" letter-spacing="0.5">4.5</text>
<text x="0" y="0" font-size="17" text-anchor="middle" letter-spacing="0.3" transform="translate(18 633.5) rotate(-90)">BDNF</text>
<text x="204.4" y="780.6" font-size="17.3" text-anchor="middle" letter-spacing="0.6">ko00620 Pyruvate metabolism</text>
<polyline points="113,660.19 120.31,657.47 127.62,654.73 134.94,651.97 142.25,649.17 149.56,646.34 156.87,643.47 164.18,640.55 171.49,637.57 178.8,634.51 186.11,631.38 193.43,628.13 200.74,624.77 208.05,621.26 215.36,617.59 222.67,613.75 229.98,609.72 237.29,605.5 244.6,601.1 251.92,596.52 259.23,591.8 266.54,586.94 273.85,581.96 281.16,576.89 288.47,571.74" fill="none" stroke="#8c8c8c" stroke-width="1.1" stroke-dasharray="1.2 1.5"/>
<polyline points="113,715.23 120.31,709.78 127.62,704.35 134.94,698.94 142.25,693.57 149.56,688.22 156.87,682.92 164.18,677.67 171.49,672.48 178.8,667.37 186.11,662.33 193.43,657.41 200.74,652.6 208.05,647.93 215.36,643.43 222.67,639.1 229.98,634.96 237.29,631.01 244.6,627.24 251.92,623.64 259.23,620.2 266.54,616.88 273.85,613.69 281.16,610.59 288.47,607.56" fill="none" stroke="#8c8c8c" stroke-width="1.1" stroke-dasharray="1.2 1.5"/>
<line x1="113" y1="687.71" x2="288.47" y2="589.65" stroke-width="1.2" style="stroke:#222"/>
<circle cx="113" cy="693.24" r="4.1" />
<circle cx="205.18" cy="631.53" r="4.1" />
<circle cx="221.43" cy="622.64" r="4.1" />
<circle cx="264.86" cy="592.68" r="4.1" />
<circle cx="277.81" cy="591.91" r="4.1" />
<circle cx="288.47" cy="607.15" r="4.1" />
<line x1="463.8" y1="537.9" x2="463.8" y2="729.7" stroke-width="1.6"/>
<line x1="463" y1="728.9" x2="749.5" y2="728.9" stroke-width="1.6"/>
<line x1="455.8" y1="728.9" x2="463.8" y2="728.9" stroke-width="1.6"/>
<text x="453.8" y="734.7" font-size="17.3" text-anchor="end" letter-spacing="0.7">0.0</text>
<line x1="455.8" y1="681.35" x2="463.8" y2="681.35" stroke-width="1.6"/>
<text x="453.8" y="687.15" font-size="17.3" text-anchor="end" letter-spacing="0.7">0.5</text>
<line x1="455.8" y1="633.8" x2="463.8" y2="633.8" stroke-width="1.6"/>
<text x="453.8" y="639.6" font-size="17.3" text-anchor="end" letter-spacing="0.7">1.0</text>
<line x1="455.8" y1="586.25" x2="463.8" y2="586.25" stroke-width="1.6"/>
<text x="453.8" y="592.05" font-size="17.3" text-anchor="end" letter-spacing="0.7">1.5</text>
<line x1="455.8" y1="538.7" x2="463.8" y2="538.7" stroke-width="1.6"/>
<text x="453.8" y="544.5" font-size="17.3" text-anchor="end" letter-spacing="0.7">2.0</text>
<line x1="463.8" y1="728.9" x2="463.8" y2="736.4" stroke-width="1.6"/>
<text x="463.2" y="756.4" font-size="17.3" text-anchor="middle" letter-spacing="0.5">4.0</text>
<line x1="535.4" y1="728.9" x2="535.4" y2="736.4" stroke-width="1.6"/>
<text x="534.8" y="756.4" font-size="17.3" text-anchor="middle" letter-spacing="0.5">4.1</text>
<line x1="606" y1="728.9" x2="606" y2="736.4" stroke-width="1.6"/>
<text x="605.4" y="756.4" font-size="17.3" text-anchor="middle" letter-spacing="0.5">4.2</text>
<line x1="677.6" y1="728.9" x2="677.6" y2="736.4" stroke-width="1.6"/>
<text x="677" y="756.4" font-size="17.3" text-anchor="middle" letter-spacing="0.5">4.3</text>
<line x1="748.7" y1="728.9" x2="748.7" y2="736.4" stroke-width="1.6"/>
<text x="748.1" y="756.4" font-size="17.3" text-anchor="middle" letter-spacing="0.5">4.4</text>
<text x="0" y="0" font-size="17" text-anchor="middle" letter-spacing="0.3" transform="translate(419.3 633.5) rotate(-90)">BDNF</text>
<text x="606.4" y="780.6" font-size="17.3" text-anchor="middle" letter-spacing="0.6">ko00640 Propanoate metabolism</text>
<polyline points="509.51,657.37 516.92,654.76 524.34,652.11 531.76,649.44 539.18,646.74 546.59,643.99 554.01,641.2 561.43,638.34 568.84,635.42 576.26,632.41 583.68,629.3 591.09,626.07 598.51,622.69 605.93,619.14 613.35,615.39 620.76,611.44 628.18,607.25 635.6,602.85 643.01,598.23 650.43,593.41 657.85,588.42 665.27,583.28 672.68,578.02 680.1,572.65 687.52,567.19" fill="none" stroke="#8c8c8c" stroke-width="1.1" stroke-dasharray="1.2 1.5"/>
<polyline points="509.51,719.33 516.92,713.56 524.34,707.81 531.76,702.1 539.18,696.42 546.59,690.77 554.01,685.18 561.43,679.65 568.84,674.18 576.26,668.8 583.68,663.52 591.09,658.37 598.51,653.36 605.93,648.52 613.35,643.88 620.76,639.45 628.18,635.25 635.6,631.26 643.01,627.5 650.43,623.92 657.85,620.53 665.27,617.28 672.68,614.16 680.1,611.14 687.52,608.21" fill="none" stroke="#8c8c8c" stroke-width="1.1" stroke-dasharray="1.2 1.5"/>
<line x1="509.51" y1="688.35" x2="687.52" y2="587.7" stroke-width="1.2" style="stroke:#222"/>
<circle cx="509.51" cy="692.99" r="4.1" />
<circle cx="608.03" cy="631.54" r="4.1" />
<circle cx="619.46" cy="622.91" r="4.1" />
<circle cx="657.81" cy="591.92" r="4.1" />
<circle cx="666.95" cy="592.43" r="4.1" />
<circle cx="687.52" cy="606.91" r="4.1" />
<line x1="840.8" y1="537.9" x2="840.8" y2="729.7" stroke-width="1.6"/>
<line x1="840" y1="728.9" x2="1126" y2="728.9" stroke-width="1.6"/>
<line x1="832.8" y1="728.9" x2="840.8" y2="728.9" stroke-width="1.6"/>
<text x="830.8" y="734.7" font-size="17.3" text-anchor="end" letter-spacing="0.7">0.0</text>
<line x1="832.8" y1="681.35" x2="840.8" y2="681.35" stroke-width="1.6"/>
<text x="830.8" y="687.15" font-size="17.3" text-anchor="end" letter-spacing="0.7">0.5</text>
<line x1="832.8" y1="633.8" x2="840.8" y2="633.8" stroke-width="1.6"/>
<text x="830.8" y="639.6" font-size="17.3" text-anchor="end" letter-spacing="0.7">1.0</text>
<line x1="832.8" y1="586.25" x2="840.8" y2="586.25" stroke-width="1.6"/>
<text x="830.8" y="592.05" font-size="17.3" text-anchor="end" letter-spacing="0.7">1.5</text>
<line x1="832.8" y1="538.7" x2="840.8" y2="538.7" stroke-width="1.6"/>
<text x="830.8" y="544.5" font-size="17.3" text-anchor="end" letter-spacing="0.7">2.0</text>
<line x1="840.8" y1="728.9" x2="840.8" y2="736.4" stroke-width="1.6"/>
<text x="840.2" y="756.4" font-size="17.3" text-anchor="middle" letter-spacing="0.5">3.8</text>
<line x1="911.6" y1="728.9" x2="911.6" y2="736.4" stroke-width="1.6"/>
<text x="911" y="756.4" font-size="17.3" text-anchor="middle" letter-spacing="0.5">3.9</text>
<line x1="982.5" y1="728.9" x2="982.5" y2="736.4" stroke-width="1.6"/>
<text x="981.9" y="756.4" font-size="17.3" text-anchor="middle" letter-spacing="0.5">4.0</text>
<line x1="1053.8" y1="728.9" x2="1053.8" y2="736.4" stroke-width="1.6"/>
<text x="1053.2" y="756.4" font-size="17.3" text-anchor="middle" letter-spacing="0.5">4.1</text>
<line x1="1125.2" y1="728.9" x2="1125.2" y2="736.4" stroke-width="1.6"/>
<text x="1124.6" y="756.4" font-size="17.3" text-anchor="middle" letter-spacing="0.5">4.2</text>
<text x="0" y="0" font-size="17" text-anchor="middle" letter-spacing="0.3" transform="translate(796.3 633.5) rotate(-90)">BDNF</text>
<text x="982.2" y="780.6" font-size="17.3" text-anchor="middle" letter-spacing="0.6">ko00650 Butanoate metabolism</text>
<polyline points="912.11,645.56 920.5,643.5 928.89,641.4 937.28,639.26 945.67,637.07 954.06,634.83 962.45,632.52 970.84,630.13 979.23,627.64 987.62,625.04 996.01,622.29 1004.4,619.38 1012.79,616.28 1021.18,612.96 1029.57,609.39 1037.96,605.55 1046.36,601.45 1054.75,597.09 1063.14,592.48 1071.53,587.65 1079.92,582.62 1088.31,577.43 1096.7,572.1 1105.09,566.65 1113.48,561.11" fill="none" stroke="#8c8c8c" stroke-width="1.1" stroke-dasharray="1.2 1.5"/>
<polyline points="912.11,719.77 920.5,713.9 928.89,708.06 937.28,702.26 945.67,696.52 954.06,690.82 962.45,685.2 970.84,679.65 979.23,674.2 987.62,668.87 996.01,663.67 1004.4,658.65 1012.79,653.81 1021.18,649.2 1029.57,644.83 1037.96,640.73 1046.36,636.89 1054.75,633.32 1063.14,629.99 1071.53,626.89 1079.92,623.98 1088.31,621.23 1096.7,618.63 1105.09,616.14 1113.48,613.75" fill="none" stroke="#8c8c8c" stroke-width="1.1" stroke-dasharray="1.2 1.5"/>
<line x1="912.11" y1="682.67" x2="1113.48" y2="587.43" stroke-width="1.2" style="stroke:#222"/>
<circle cx="912.11" cy="692.99" r="4.1" />
<circle cx="999.21" cy="631.54" r="4.1" />
<circle cx="1040.6" cy="622.91" r="4.1" />
<circle cx="1061.93" cy="592.43" r="4.1" />
<circle cx="1100.78" cy="591.92" r="4.1" />
<circle cx="1113.48" cy="606.91" r="4.1" />
<line x1="1211.8" y1="537.9" x2="1211.8" y2="729.7" stroke-width="1.6"/>
<line x1="1211" y1="728.9" x2="1497.8" y2="728.9" stroke-width="1.6"/>
<line x1="1203.8" y1="728.9" x2="1211.8" y2="728.9" stroke-width="1.6"/>
<text x="1201.8" y="734.7" font-size="17.3" text-anchor="end" letter-spacing="0.7">0.0</text>
<line x1="1203.8" y1="681.35" x2="1211.8" y2="681.35" stroke-width="1.6"/>
<text x="1201.8" y="687.15" font-size="17.3" text-anchor="end" letter-spacing="0.7">0.5</text>
<line x1="1203.8" y1="633.8" x2="1211.8" y2="633.8" stroke-width="1.6"/>
<text x="1201.8" y="639.6" font-size="17.3" text-anchor="end" letter-spacing="0.7">1.0</text>
<line x1="1203.8" y1="586.25" x2="1211.8" y2="586.25" stroke-width="1.6"/>
<text x="1201.8" y="592.05" font-size="17.3" text-anchor="end" letter-spacing="0.7">1.5</text>
<line x1="1203.8" y1="538.7" x2="1211.8" y2="538.7" stroke-width="1.6"/>
<text x="1201.8" y="544.5" font-size="17.3" text-anchor="end" letter-spacing="0.7">2.0</text>
<line x1="1211.8" y1="728.9" x2="1211.8" y2="736.4" stroke-width="1.6"/>
<text x="1211.2" y="756.4" font-size="17.3" text-anchor="middle" letter-spacing="0.5">3.8</text>
<line x1="1282.6" y1="728.9" x2="1282.6" y2="736.4" stroke-width="1.6"/>
<text x="1282" y="756.4" font-size="17.3" text-anchor="middle" letter-spacing="0.5">3.9</text>
<line x1="1353.5" y1="728.9" x2="1353.5" y2="736.4" stroke-width="1.6"/>
<text x="1352.9" y="756.4" font-size="17.3" text-anchor="middle" letter-spacing="0.5">4.0</text>
<line x1="1424.8" y1="728.9" x2="1424.8" y2="736.4" stroke-width="1.6"/>
<text x="1424.2" y="756.4" font-size="17.3" text-anchor="middle" letter-spacing="0.5">4.1</text>
<line x1="1497" y1="728.9" x2="1497" y2="736.4" stroke-width="1.6"/>
<text x="1496.4" y="756.4" font-size="17.3" text-anchor="middle" letter-spacing="0.5">4.2</text>
<text x="0" y="0" font-size="17" text-anchor="middle" letter-spacing="0.3" transform="translate(1167.3 633.5) rotate(-90)">BDNF</text>
<text x="1353.5" y="780.6" font-size="17.3" text-anchor="middle" letter-spacing="0.6">ko01212 Fatty acid metabolism</text>
<polyline points="1284.14,648.86 1292.49,646.59 1300.84,644.29 1309.18,641.95 1317.53,639.56 1325.88,637.12 1334.23,634.62 1342.58,632.03 1350.92,629.36 1359.27,626.56 1367.62,623.63 1375.97,620.53 1384.32,617.23 1392.67,613.72 1401.01,609.95 1409.36,605.92 1417.71,601.63 1426.06,597.07 1434.41,592.27 1442.75,587.26 1451.1,582.06 1459.45,576.7 1467.8,571.22 1476.15,565.62 1484.49,559.94" fill="none" stroke="#8c8c8c" stroke-width="1.1" stroke-dasharray="1.2 1.5"/>
<polyline points="1284.14,719.8 1292.49,713.83 1300.84,707.88 1309.18,701.98 1317.53,696.12 1325.88,690.31 1334.23,684.57 1342.58,678.91 1350.92,673.35 1359.27,667.9 1367.62,662.59 1375.97,657.44 1384.32,652.49 1392.67,647.76 1401.01,643.28 1409.36,639.07 1417.71,635.12 1426.06,631.43 1434.41,627.98 1442.75,624.75 1451.1,621.7 1459.45,618.82 1467.8,616.06 1476.15,613.41 1484.49,610.85" fill="none" stroke="#8c8c8c" stroke-width="1.1" stroke-dasharray="1.2 1.5"/>
<line x1="1284.14" y1="684.33" x2="1484.49" y2="585.39" stroke-width="1.2" style="stroke:#222"/>
<circle cx="1284.14" cy="692.99" r="4.1" />
<circle cx="1379.87" cy="631.54" r="4.1" />
<circle cx="1400.95" cy="622.91" r="4.1" />
<circle cx="1438.53" cy="592.43" r="4.1" />
<circle cx="1460.62" cy="591.92" r="4.1" />
<circle cx="1484.49" cy="606.91" r="4.1" />
<line x1="1610.6" y1="537.9" x2="1610.6" y2="729.7" stroke-width="1.6"/>
<line x1="1609.8" y1="728.9" x2="1895.8" y2="728.9" stroke-width="1.6"/>
<line x1="1602.6" y1="728.9" x2="1610.6" y2="728.9" stroke-width="1.6"/>
<text x="1600.6" y="734.7" font-size="17.3" text-anchor="end" letter-spacing="0.7">0.0</text>
<line x1="1602.6" y1="681.35" x2="1610.6" y2="681.35" stroke-width="1.6"/>
<text x="1600.6" y="687.15" font-size="17.3" text-anchor="end" letter-spacing="0.7">0.5</text>
<line x1="1602.6" y1="633.8" x2="1610.6" y2="633.8" stroke-width="1.6"/>
<text x="1600.6" y="639.6" font-size="17.3" text-anchor="end" letter-spacing="0.7">1.0</text>
<line x1="1602.6" y1="586.25" x2="1610.6" y2="586.25" stroke-width="1.6"/>
<text x="1600.6" y="592.05" font-size="17.3" text-anchor="end" letter-spacing="0.7">1.5</text>
<line x1="1602.6" y1="538.7" x2="1610.6" y2="538.7" stroke-width="1.6"/>
<text x="1600.6" y="544.5" font-size="17.3" text-anchor="end" letter-spacing="0.7">2.0</text>
<line x1="1610.6" y1="728.9" x2="1610.6" y2="736.4" stroke-width="1.6"/>
<text x="1610" y="756.4" font-size="17.3" text-anchor="middle" letter-spacing="0.5">3.4</text>
<line x1="1667" y1="728.9" x2="1667" y2="736.4" stroke-width="1.6"/>
<text x="1666.4" y="756.4" font-size="17.3" text-anchor="middle" letter-spacing="0.5">3.5</text>
<line x1="1723.9" y1="728.9" x2="1723.9" y2="736.4" stroke-width="1.6"/>
<text x="1723.3" y="756.4" font-size="17.3" text-anchor="middle" letter-spacing="0.5">3.6</text>
<line x1="1780.7" y1="728.9" x2="1780.7" y2="736.4" stroke-width="1.6"/>
<text x="1780.1" y="756.4" font-size="17.3" text-anchor="middle" letter-spacing="0.5">3.7</text>
<line x1="1837.4" y1="728.9" x2="1837.4" y2="736.4" stroke-width="1.6"/>
<text x="1836.8" y="756.4" font-size="17.3" text-anchor="middle" letter-spacing="0.5">3.8</text>
<line x1="1895" y1="728.9" x2="1895" y2="736.4" stroke-width="1.6"/>
<text x="1894.4" y="756.4" font-size="17.3" text-anchor="middle" letter-spacing="0.5">3.9</text>
<text x="0" y="0" font-size="17" text-anchor="middle" letter-spacing="0.3" transform="translate(1566.1 633.5) rotate(-90)">BDNF</text>
<text x="1752.7" y="780.6" font-size="17.3" text-anchor="middle" letter-spacing="0.6">ko00061 Fatty acid biosynthesis</text>
<polyline points="1666.71,650.02 1675.49,647.78 1684.27,645.51 1693.06,643.21 1701.84,640.87 1710.62,638.48 1719.4,636.03 1728.18,633.52 1736.97,630.92 1745.75,628.23 1754.53,625.42 1763.31,622.46 1772.09,619.34 1780.88,616.03 1789.66,612.5 1798.44,608.74 1807.22,604.73 1816,600.47 1824.79,595.98 1833.57,591.28 1842.35,586.38 1851.13,581.32 1859.91,576.12 1868.69,570.81 1877.48,565.39" fill="none" stroke="#8c8c8c" stroke-width="1.1" stroke-dasharray="1.2 1.5"/>
<polyline points="1666.71,720.12 1675.49,714.35 1684.27,708.61 1693.06,702.9 1701.84,697.24 1710.62,691.62 1719.4,686.06 1728.18,680.57 1736.97,675.16 1745.75,669.84 1754.53,664.65 1763.31,659.6 1772.09,654.71 1780.88,650.02 1789.66,645.54 1798.44,641.3 1807.22,637.3 1816,633.55 1824.79,630.03 1833.57,626.73 1842.35,623.62 1851.13,620.67 1859.91,617.87 1868.69,615.18 1877.48,612.59" fill="none" stroke="#8c8c8c" stroke-width="1.1" stroke-dasharray="1.2 1.5"/>
<line x1="1666.71" y1="685.07" x2="1877.48" y2="588.99" stroke-width="1.2" style="stroke:#222"/>
<circle cx="1666.71" cy="692.99" r="4.1" />
<circle cx="1782.5" cy="622.91" r="4.1" />
<circle cx="1787.08" cy="631.54" r="4.1" />
<circle cx="1828.98" cy="592.43" r="4.1" />
<circle cx="1872.91" cy="591.92" r="4.1" />
<circle cx="1877.48" cy="606.91" r="4.1" />
</g>
</svg></body></html>
